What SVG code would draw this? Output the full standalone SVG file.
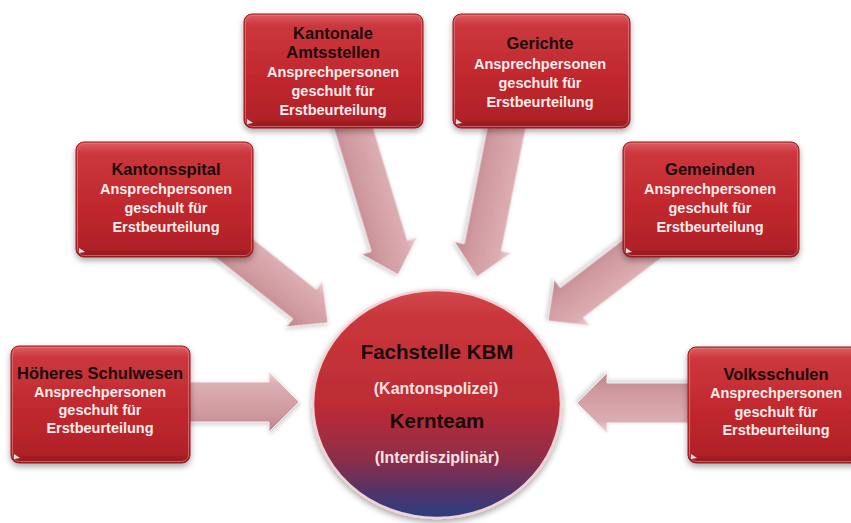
<svg xmlns="http://www.w3.org/2000/svg" width="851" height="523" viewBox="0 0 851 523">
<defs>
  <linearGradient id="boxGrad" x1="0" y1="0" x2="0" y2="1">
    <stop offset="0" stop-color="#dc6063"/>
    <stop offset="0.1" stop-color="#cb373c"/>
    <stop offset="0.55" stop-color="#c1282e"/>
    <stop offset="0.92" stop-color="#b02228"/>
    <stop offset="1" stop-color="#8e181d"/>
  </linearGradient>
  <linearGradient id="arrowGrad" x1="0" y1="0" x2="0" y2="1">
    <stop offset="0" stop-color="#efd5d8"/>
    <stop offset="0.2" stop-color="#daa9ae"/>
    <stop offset="0.7" stop-color="#cd949a"/>
    <stop offset="1" stop-color="#b97f87"/>
  </linearGradient>
  <linearGradient id="circGrad" x1="0" y1="0" x2="0" y2="1">
    <stop offset="0" stop-color="#d24a4d"/>
    <stop offset="0.12" stop-color="#c9363b"/>
    <stop offset="0.52" stop-color="#bc2c35"/>
    <stop offset="0.74" stop-color="#8e2d48"/>
    <stop offset="0.89" stop-color="#51336a"/>
    <stop offset="1" stop-color="#273f82"/>
  </linearGradient>
  <filter id="shadow" x="-20%" y="-20%" width="140%" height="150%">
    <feDropShadow dx="0" dy="3" stdDeviation="3" flood-color="#000" flood-opacity="0.35"/>
  </filter>
  <filter id="ashadow" x="-20%" y="-30%" width="140%" height="160%">
    <feDropShadow dx="1" dy="2" stdDeviation="2" flood-color="#555" flood-opacity="0.3"/>
  </filter>
  <style>
    .box { fill: url(#boxGrad); stroke: #9a1c21; stroke-width: 1; filter: url(#shadow); }
    .rim { fill: none; stroke: #e37a7c; stroke-width: 1; opacity: 0.7; }
    .glint { fill: #ffffff; opacity: 0.9; }
    .arrow { fill: url(#arrowGrad); stroke: #f8ecee; stroke-width: 1; opacity: 0.95; filter: url(#ashadow); }
    .t { font-family: "Liberation Sans", Arial, sans-serif; font-weight: bold; text-anchor: middle; }
    .title { font-size: 16.5px; fill: #1a0a0a; }
    .sub { font-size: 14.5px; fill: #fbecec; }
    .ctitle { font-size: 20.5px; fill: #1a0808; }
    .csub { font-size: 16px; fill: #f6e2e2; }
  </style>
</defs>
<rect width="851" height="523" fill="#ffffff"/>

<g id="connectors">
  <path class="arrow" transform="translate(185,402)" d="M0,-20 L84,-20 L84,-30 L114,0 L84,30 L84,20 L0,20 Z"/>
  <path class="arrow" transform="translate(695,403) rotate(180)" d="M0,-20 L88,-20 L88,-30 L118,0 L88,30 L88,20 L0,20 Z"/>
  <path class="arrow" transform="translate(205,225) rotate(38.5)" d="M0,-19 L127,-19 L127,-29 L157,0 L127,29 L127,19 L0,19 Z"/>
  <path class="arrow" transform="translate(348,110) rotate(73.1)" d="M0,-19 L142,-19 L142,-29 L172,0 L142,29 L142,19 L0,19 Z"/>
  <path class="arrow" transform="translate(510,110) rotate(101.2)" d="M0,-19 L140,-19 L140,-29 L170,0 L140,29 L140,19 L0,19 Z"/>
  <path class="arrow" transform="translate(660,235) rotate(142.5)" d="M0,-19 L111,-19 L111,-29 L141,0 L111,29 L111,19 L0,19 Z"/>
</g>

<g id="center">
  <ellipse cx="437" cy="404" rx="124" ry="114" fill="url(#circGrad)" stroke="#f1d3d5" stroke-width="2.5" filter="url(#shadow)"/>
  <text class="t ctitle" x="437" y="359">Fachstelle KBM</text>
  <text class="t csub" x="436" y="394">(Kantonspolizei)</text>
  <text class="t ctitle" x="437" y="428">Kernteam</text>
  <text class="t csub" x="437" y="463">(Interdisziplinär)</text>
</g>

<g id="kantonale">
  <rect class="box" x="244" y="14" width="179" height="114" rx="8"/>
  <rect class="rim" x="245.5" y="15.5" width="176" height="111" rx="7"/>
  <path class="glint" d="M247,119 L253,123 L247,124 Z"/>
  <text class="t title" x="333" y="39">Kantonale</text>
  <text class="t title" x="333" y="58">Amtsstellen</text>
  <text class="t sub" x="333" y="77">Ansprechpersonen</text>
  <text class="t sub" x="333" y="96">geschult für</text>
  <text class="t sub" x="333" y="115">Erstbeurteilung</text>
</g>

<g id="gerichte">
  <rect class="box" x="453" y="14" width="177" height="114" rx="8"/>
  <rect class="rim" x="454.5" y="15.5" width="174" height="111" rx="7"/>
  <path class="glint" d="M456,119 L462,123 L456,124 Z"/>
  <text class="t title" x="540" y="49">Gerichte</text>
  <text class="t sub" x="540" y="69">Ansprechpersonen</text>
  <text class="t sub" x="540" y="88">geschult für</text>
  <text class="t sub" x="540" y="107">Erstbeurteilung</text>
</g>

<g id="kantonsspital">
  <rect class="box" x="76" y="142" width="177" height="115" rx="8"/>
  <rect class="rim" x="77.5" y="143.5" width="174" height="112" rx="7"/>
  <path class="glint" d="M79,248 L85,252 L79,253 Z"/>
  <text class="t title" x="166" y="175">Kantonsspital</text>
  <text class="t sub" x="166" y="194">Ansprechpersonen</text>
  <text class="t sub" x="166" y="213">geschult für</text>
  <text class="t sub" x="166" y="232">Erstbeurteilung</text>
</g>

<g id="gemeinden">
  <rect class="box" x="623" y="142" width="176" height="115" rx="8"/>
  <rect class="rim" x="624.5" y="143.5" width="173" height="112" rx="7"/>
  <path class="glint" d="M626,248 L632,252 L626,253 Z"/>
  <text class="t title" x="710" y="175">Gemeinden</text>
  <text class="t sub" x="710" y="194">Ansprechpersonen</text>
  <text class="t sub" x="710" y="213">geschult für</text>
  <text class="t sub" x="710" y="232">Erstbeurteilung</text>
</g>

<g id="hoeheres">
  <rect class="box" x="11" y="346" width="179" height="117" rx="8"/>
  <rect class="rim" x="12.5" y="347.5" width="176" height="114" rx="7"/>
  <path class="glint" d="M14,454 L20,458 L14,459 Z"/>
  <text class="t title" x="100" y="379">Höheres Schulwesen</text>
  <text class="t sub" x="100" y="397">Ansprechpersonen</text>
  <text class="t sub" x="100" y="415">geschult für</text>
  <text class="t sub" x="100" y="433">Erstbeurteilung</text>
</g>

<g id="volksschulen">
  <rect class="box" x="688" y="347" width="177" height="116" rx="8"/>
  <rect class="rim" x="689.5" y="348.5" width="174" height="113" rx="7"/>
  <path class="glint" d="M691,454 L697,458 L691,459 Z"/>
  <text class="t title" x="776" y="380">Volksschulen</text>
  <text class="t sub" x="776" y="398">Ansprechpersonen</text>
  <text class="t sub" x="776" y="417">geschult für</text>
  <text class="t sub" x="776" y="435">Erstbeurteilung</text>
</g>
</svg>
